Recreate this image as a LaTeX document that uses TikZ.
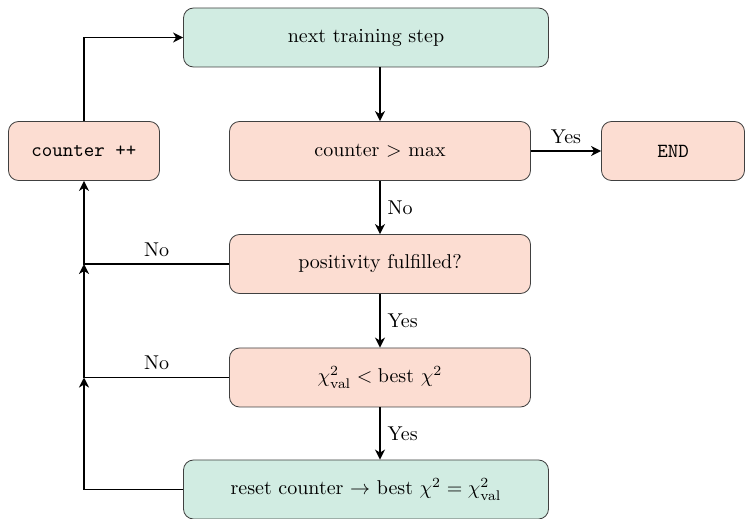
\documentclass[tikz,border=0pt]{standalone}
\usetikzlibrary{arrows.meta}
\definecolor{pinkfill}{RGB}{252,221,210}
\definecolor{greenfill}{RGB}{209,236,226}
\begin{document}
\begin{tikzpicture}[x=0.5pt,y=-0.5pt,
  box/.style={draw=black!75,rounded corners=5pt,minimum height=29.5pt,inner sep=2pt,align=center},
  pinkbox/.style={box,fill=pinkfill},
  greenbox/.style={box,fill=greenfill},
  conn/.style={line width=0.9pt,-{Stealth[length=5pt,width=5pt,inset=1.5pt]}}]
\useasboundingbox (0,0) rectangle (746,519);
\node[greenbox,minimum width=182.5pt] (next) at (366,37.5) {next training step};
\node[pinkbox,minimum width=150.5pt] (cmax) at (380,151) {counter $>$ max};
\node[pinkbox,minimum width=71.5pt] (end) at (673,151) {\texttt{END}};
\node[pinkbox,minimum width=75.5pt] (cpp) at (84,151) {\texttt{counter ++}};
\node[pinkbox,minimum width=150.5pt] (pos) at (380,264) {positivity fulfilled?};
\node[pinkbox,minimum width=150.5pt] (chi) at (380,377.5) {$\chi^2_{\mathrm{val}} < \mathrm{best}\ \chi^2$};
\node[greenbox,minimum width=182.5pt] (reset) at (366,489.5) {reset counter $\rightarrow$ best $\chi^2 = \chi^2_{\mathrm{val}}$};
\coordinate (j1) at (84,264);
\coordinate (j2) at (84,377.5);
\coordinate (j3) at (84,489.5);
\coordinate (tl) at (84,37.5);
\draw[conn] (next.south -| cmax) -- (cmax.north);
\draw[conn] (cmax.east) -- node[above] {Yes} (end.west);
\draw[conn] (cmax.south) -- node[right] {No} (pos.north);
\draw[conn] (pos.south) -- node[right] {Yes} (chi.north);
\draw[conn] (chi.south) -- node[right] {Yes} (reset.north -| chi);
\draw[conn] (cpp.north) -- (tl) -- (next.west);
\draw[conn] (pos.west) -- node[above] {No} (j1) -- (cpp.south);
\draw[conn] (chi.west) -- node[above] {No} (j2) -- (j1);
\draw[conn] (reset.west) -- (j3) -- (j2);
\end{tikzpicture}
\end{document}
